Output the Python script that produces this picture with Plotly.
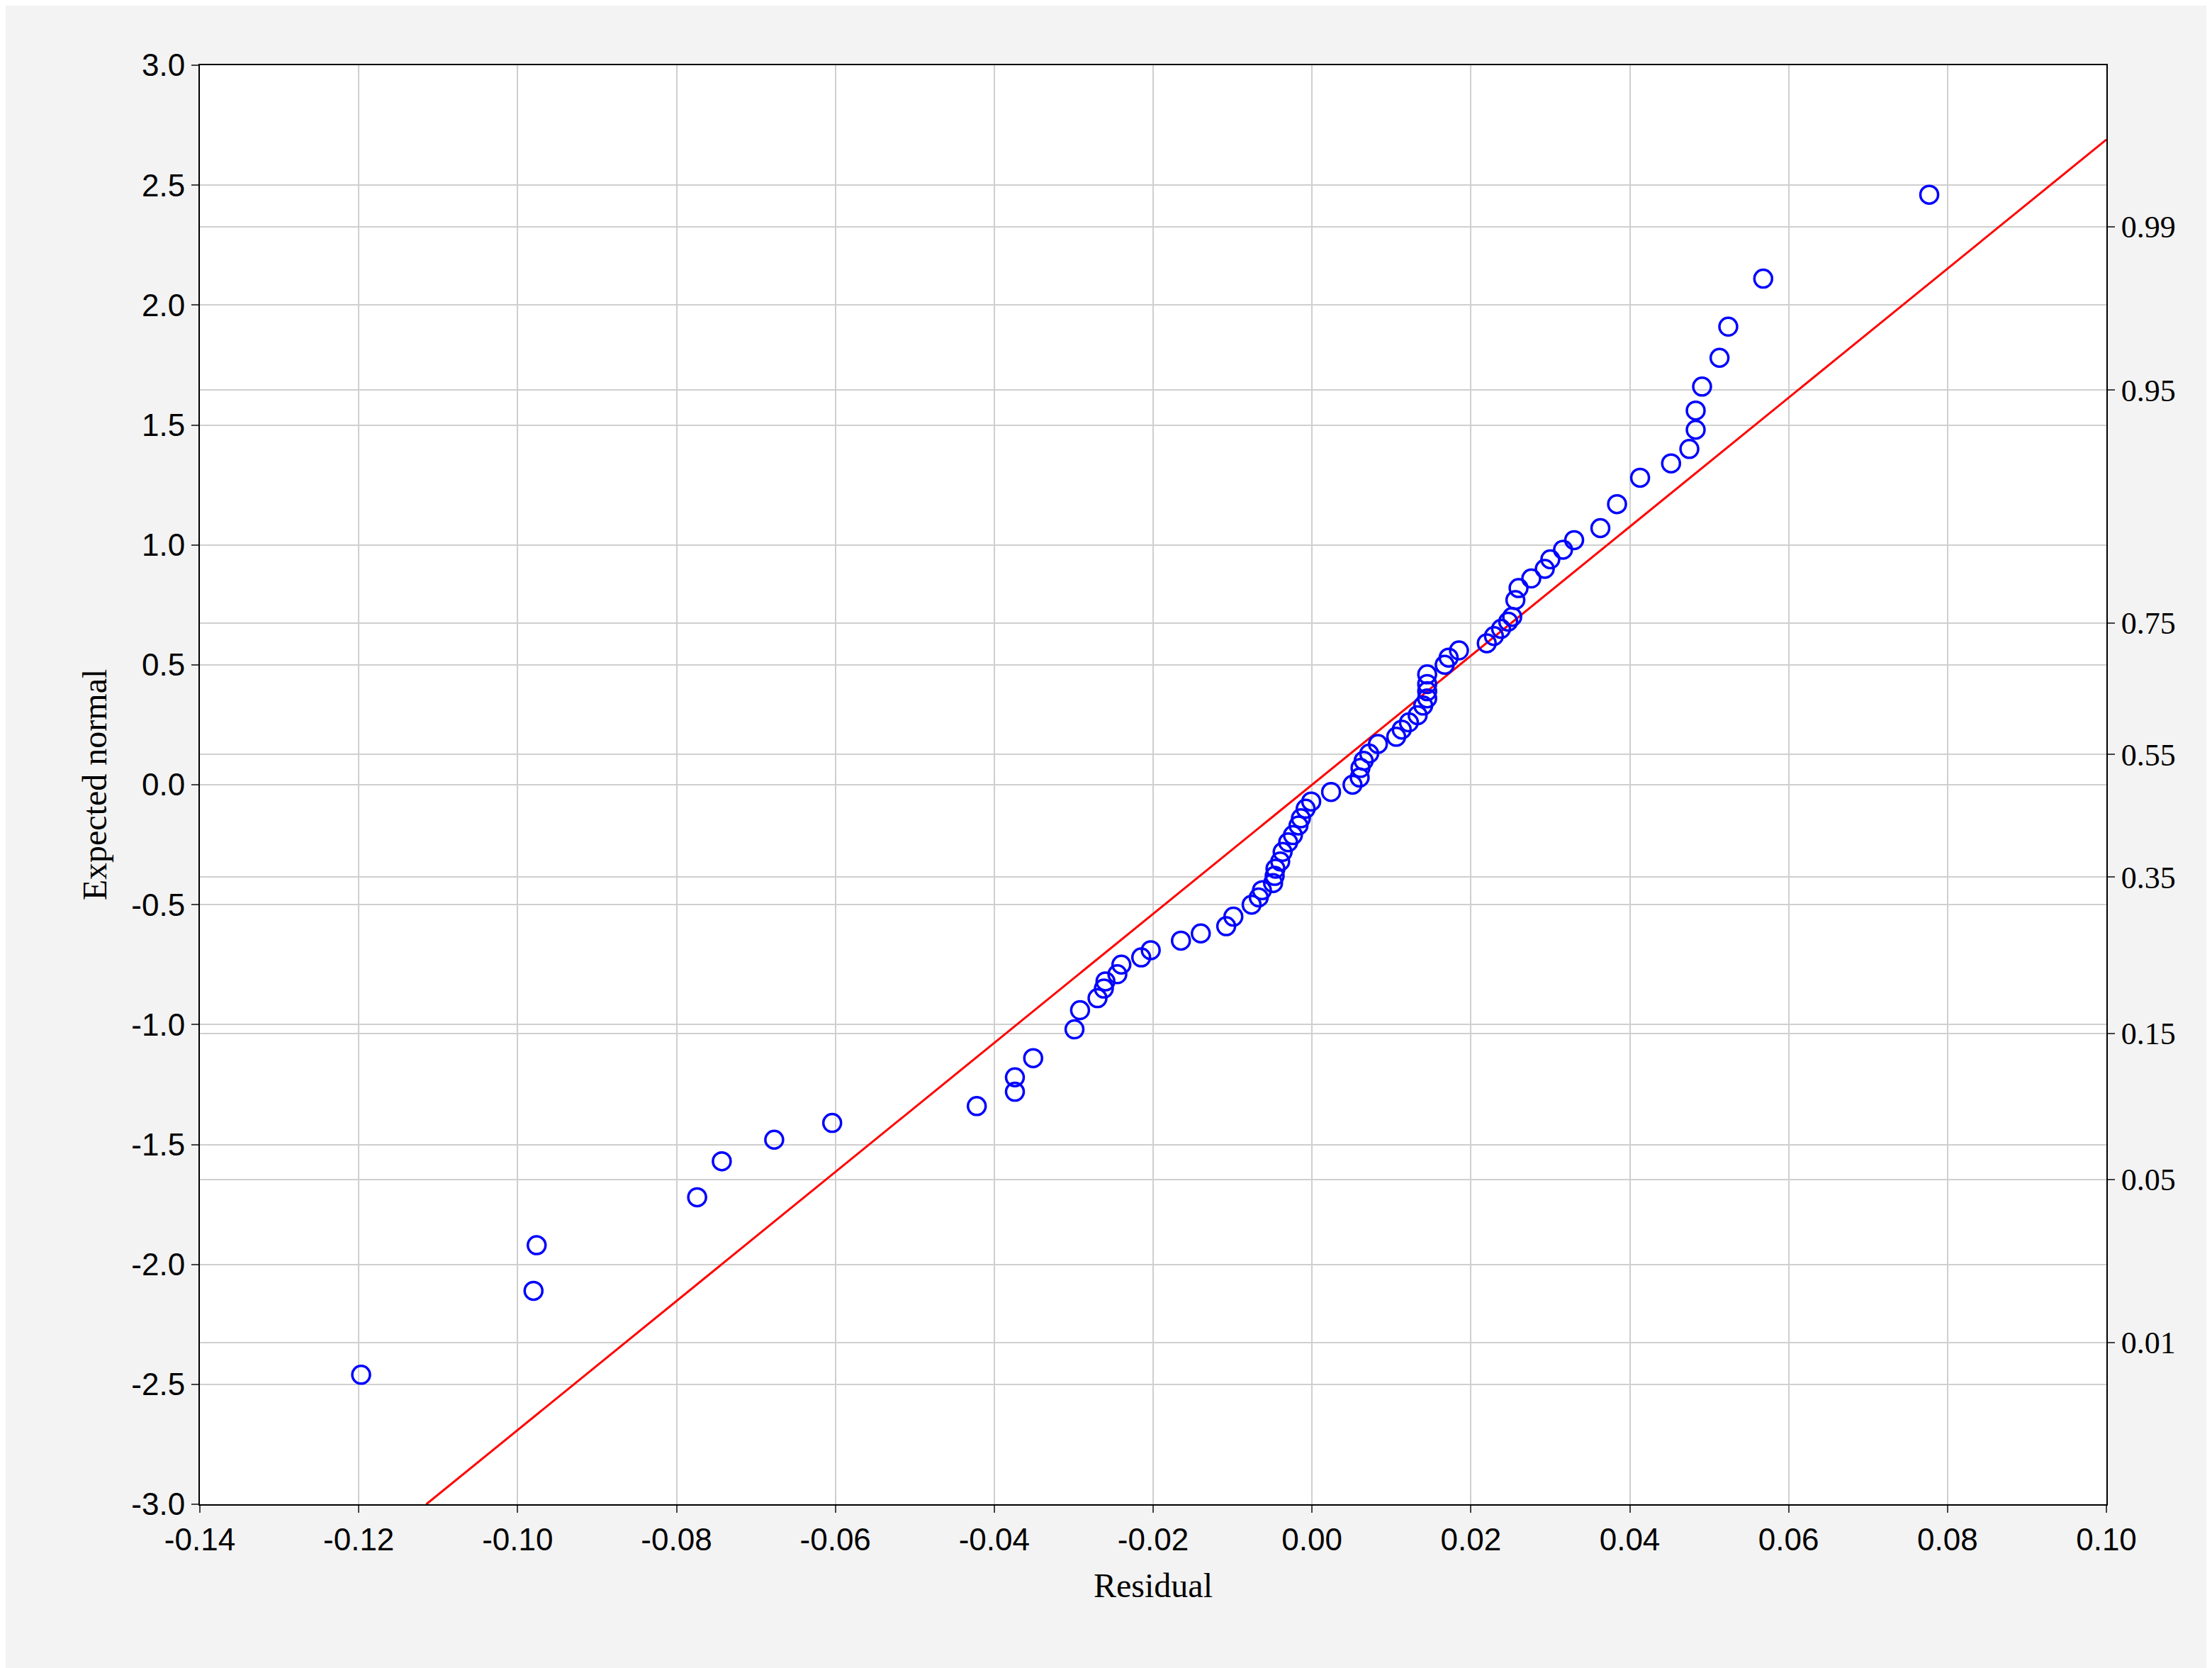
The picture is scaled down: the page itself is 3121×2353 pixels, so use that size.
import plotly.graph_objs as go

# residuals and expected normal values
residual = [-0.1197, -0.098, -0.0976, -0.0774, -0.0743, -0.0677, -0.0604, -0.0422, -0.0374, -0.0374,
            -0.0351, -0.0299, -0.0292, -0.027, -0.0262, -0.026, -0.0245, -0.024, -0.0215, -0.0203,
            -0.0165, -0.014, -0.0108, -0.0099, -0.0076, -0.0067, -0.0063, -0.0049, -0.0047, -0.0046,
            -0.004, -0.0037, -0.003, -0.0024, -0.0017, -0.0014, -0.0008, -0.0001, 0.0024, 0.0051,
            0.006, 0.0061, 0.0065, 0.0072, 0.0083, 0.0106, 0.0113, 0.0122, 0.0133, 0.014,
            0.0145, 0.0145, 0.0145, 0.0145, 0.0167, 0.0172, 0.0185, 0.022, 0.0229, 0.0238,
            0.0247, 0.0252, 0.0256, 0.026, 0.0276, 0.0293, 0.03, 0.0316, 0.033, 0.0363,
            0.0384, 0.0413, 0.0452, 0.0475, 0.0483, 0.0483, 0.0491, 0.0513, 0.0524, 0.0568, 0.0777]
expected = [-2.46, -2.11, -1.92, -1.72, -1.57, -1.48, -1.41, -1.34, -1.28, -1.22,
            -1.14, -1.02, -0.94, -0.89, -0.85, -0.82, -0.79, -0.75, -0.72, -0.69,
            -0.65, -0.62, -0.59, -0.55, -0.50, -0.47, -0.44, -0.41, -0.38, -0.35,
            -0.32, -0.28, -0.24, -0.21, -0.17, -0.14, -0.10, -0.07, -0.03, 0.00,
            0.03, 0.07, 0.10, 0.13, 0.17, 0.20, 0.23, 0.26, 0.29, 0.33,
            0.36, 0.39, 0.42, 0.46, 0.50, 0.53, 0.56, 0.59, 0.62, 0.65,
            0.68, 0.70, 0.77, 0.82, 0.86, 0.90, 0.94, 0.98, 1.02, 1.07,
            1.17, 1.28, 1.34, 1.40, 1.48, 1.56, 1.66, 1.78, 1.91, 2.11, 2.46]

line_x = [-0.1115, 0.10]
line_y = [-3.0, 2.69]

x_ticks = [-0.14, -0.12, -0.10, -0.08, -0.06, -0.04, -0.02, 0.0, 0.02, 0.04, 0.06, 0.08, 0.10]
y_ticks = [-3.0, -2.5, -2.0, -1.5, -1.0, -0.5, 0.0, 0.5, 1.0, 1.5, 2.0, 2.5, 3.0]
prob_labels = ['0.01', '0.05', '0.15', '0.35', '0.55', '0.75', '0.95', '0.99']
prob_z = [-2.326, -1.645, -1.036, -0.385, 0.126, 0.674, 1.645, 2.326]

sans = 'Liberation Sans'
serif = 'Liberation Serif'

fig = go.Figure()
fig.add_trace(go.Scatter(x=line_x, y=line_y, mode='lines', line=dict(color='red', width=3), showlegend=False))
fig.add_trace(go.Scatter(x=residual, y=expected, mode='markers', showlegend=False,
                         marker=dict(symbol='circle-open', color='blue', size=25, line=dict(width=3.5, color='blue'))))
fig.add_trace(go.Scatter(x=[None], y=[None], yaxis='y2', showlegend=False))

fig.update_layout(
    width=3121, height=2353,
    paper_bgcolor='#f3f3f3', plot_bgcolor='white',
    margin=dict(l=274, r=157, t=84, b=239),
    xaxis=dict(range=[-0.14, 0.10], tickvals=x_ticks, ticktext=['%.2f' % v for v in x_ticks],
               showgrid=True, gridcolor='#cfcfcf', gridwidth=2,
               zeroline=False, showline=True, linecolor='black', linewidth=2, mirror=True,
               ticks='outside', ticklen=10, tickwidth=2, tickfont=dict(family=sans, size=44, color='black'),
               title=dict(text='Residual', font=dict(family=serif, size=48, color='black'), standoff=25)),
    yaxis=dict(range=[-3, 3], tickvals=y_ticks, ticktext=['%.1f' % v for v in y_ticks],
               showgrid=True, gridcolor='#cfcfcf', gridwidth=2,
               zeroline=False, showline=True, linecolor='black', linewidth=2,
               ticks='outside', ticklen=10, tickwidth=2, tickfont=dict(family=sans, size=44, color='black'),
               title=dict(text='Expected normal', font=dict(family=serif, size=48, color='black'), standoff=20)),
    yaxis2=dict(range=[-3, 3], overlaying='y', side='right', tickvals=prob_z, ticktext=prob_labels,
                showgrid=True, gridcolor='#cfcfcf', gridwidth=2, zeroline=False,
                showline=True, linecolor='black', linewidth=2, ticks='outside', ticklen=10, tickwidth=2,
                tickfont=dict(family=serif, size=44, color='black')),
)

fig.write_html("out.html")
